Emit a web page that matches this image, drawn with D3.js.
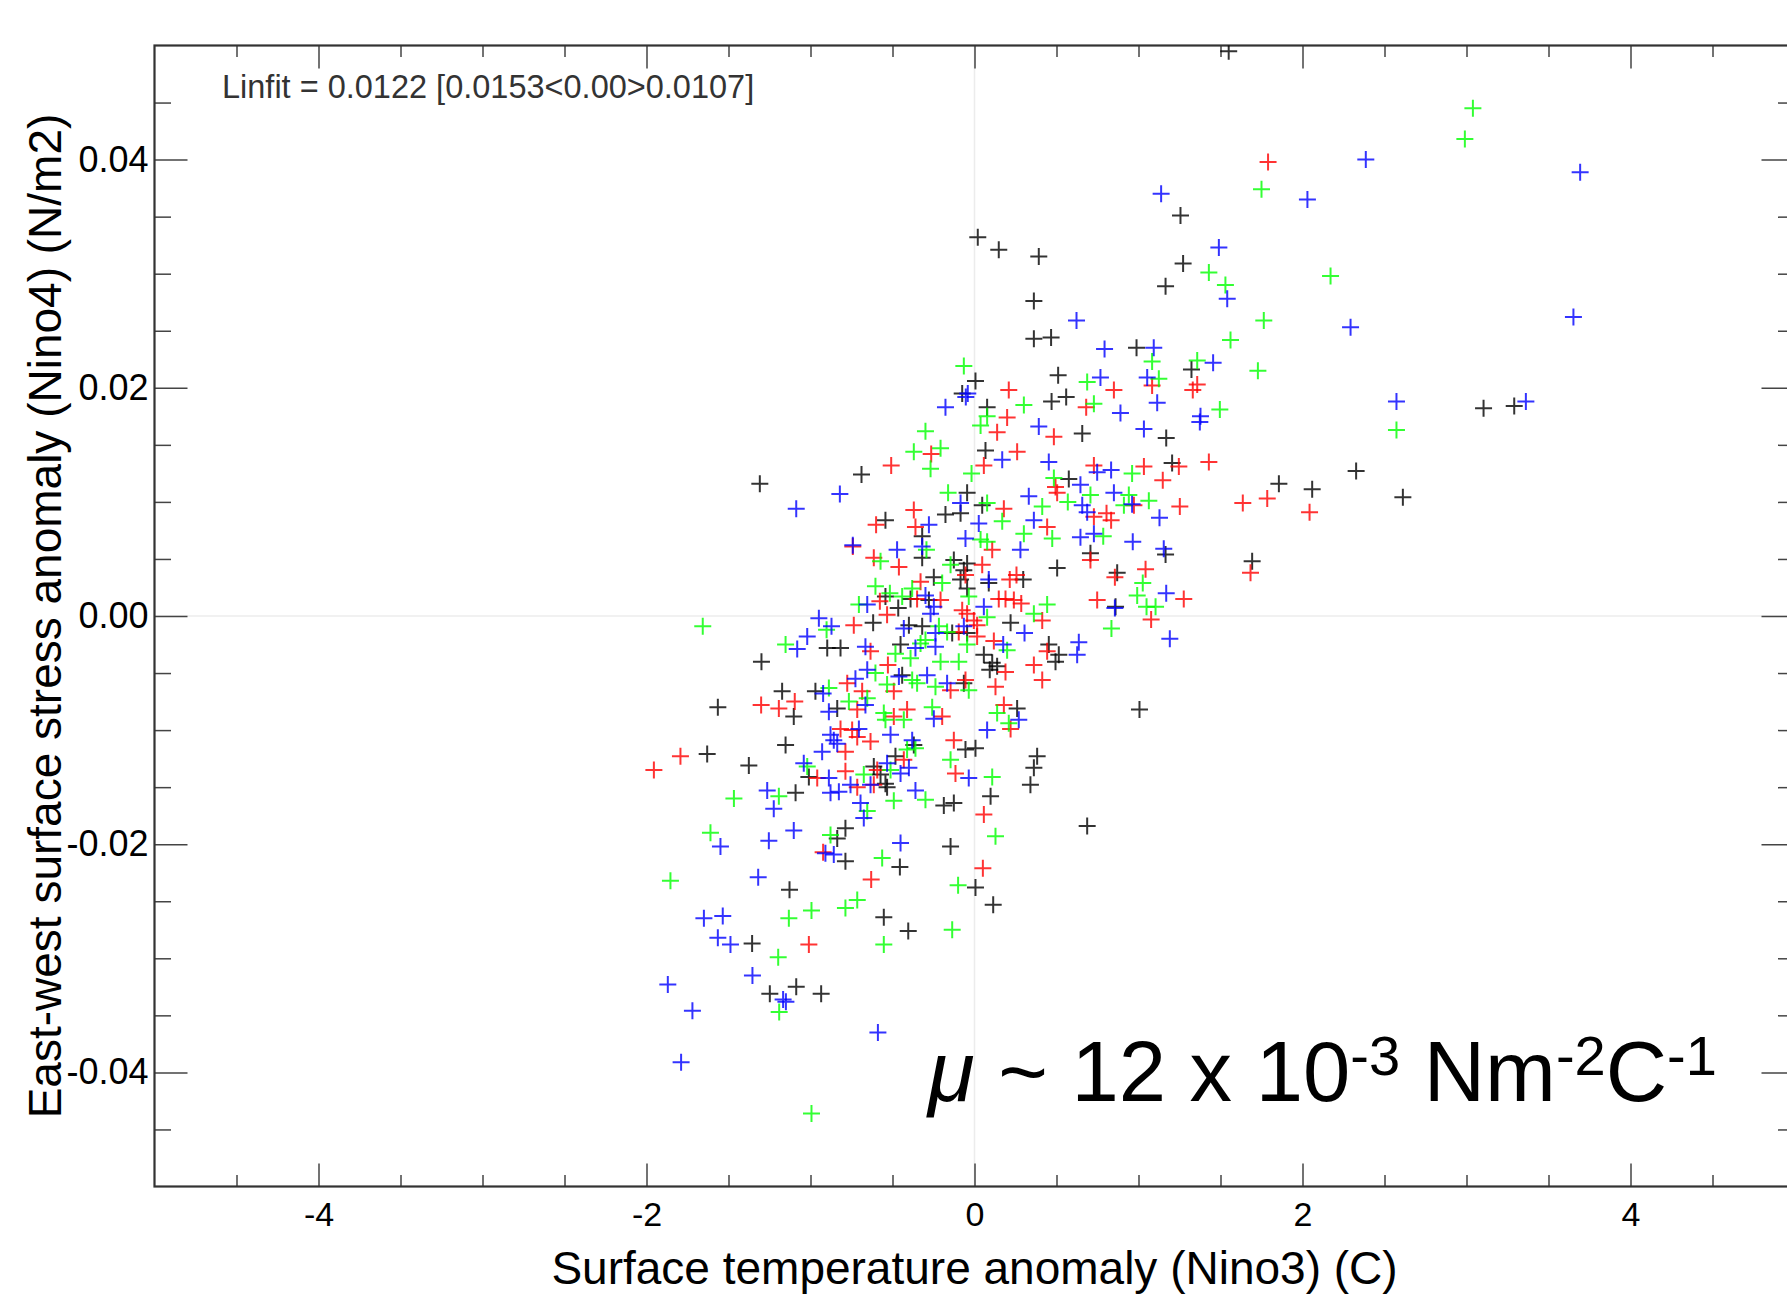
<!DOCTYPE html>
<html>
<head>
<meta charset="utf-8">
<script src="https://cdn.jsdelivr.net/npm/d3@7"></script>
<style>
    body { margin: 0; background: #fff; }
    svg { display: block; font-family: "Liberation Sans", Arial, Helvetica, sans-serif; }
    .tick text { fill: #000; }
</style>
</head>
<body>
<div id="chart"></div>
<script>

// Nino3 SST anomaly (C) vs Nino4 east-west stress anomaly (N/m2), one array per colour
const blackPts = [
    [1.256,0.0351],[0.02,0.0332],[0.148,0.0321],[0.392,0.0315],[1.272,0.0309],[1.165,0.0289],[0.362,0.0276],[0.362,0.0243],
    [0.467,0.0244],[0.988,0.0235],[1.323,0.0216],[0.006,0.0206],[0.510,0.0211],[-0.075,0.0195],[0.077,0.0183],[0.470,0.0188],
    [0.559,0.0192],[0.657,0.0160],[1.169,0.0156],[3.291,0.0184],[3.104,0.0182],[1.55,0.0495],
    [0.067,0.0145],[-0.689,0.0124],[0.575,0.0120],[-1.309,0.0116],[-0.045,0.0108],[0.047,0.0097],[-0.177,0.0089],[-0.085,0.0090],
    [-0.543,0.0084],[-0.319,0.0070],[-0.319,0.0051],[-0.126,0.0049],[-0.045,0.0046],[-0.065,0.0040],[0.504,0.0042],[0.707,0.0055],
    [-0.248,0.0034],[-0.085,0.0032],[-0.045,0.0024],[0.087,0.0029],[0.297,0.0032],[-0.543,0.0017],[-0.390,0.0015],[-0.278,0.0014],
    [-0.465,0.0007],[0.220,-0.0006],[-0.618,-0.0006],[-0.400,-0.0008],[-0.319,-0.0009],[-0.136,-0.0015],[-0.045,-0.0015],[0.453,-0.0025],
    [-0.898,-0.0028],[-0.817,-0.0028],[-0.451,-0.0025],[-1.299,-0.0040],[0.057,-0.0034],[0.108,-0.0041],[0.138,-0.0044],[0.093,-0.0047],
    [0.514,-0.0034],[0.494,-0.0040],[-0.441,-0.0052],[-1.173,-0.0066],[-0.970,-0.0066],[-0.065,-0.0059],
    [-1.565,-0.0080],[-1.102,-0.0088],[-0.837,-0.0081],[0.260,-0.0081],[-1.152,-0.0113],[-0.370,-0.0113],[-0.055,-0.0117],[0.006,-0.0116],
    [-0.482,-0.0123],[-0.614,-0.0132],[0.382,-0.0123],[0.362,-0.0133],[-1.010,-0.0141],[-0.573,-0.0139],[-0.543,-0.0147],[-0.533,-0.0150],
    [-1.376,-0.0131],[-1.630,-0.0121],[0.341,-0.0148],[0.098,-0.0158],[-0.187,-0.0166],[-0.126,-0.0164],[-1.091,-0.0155],[-0.787,-0.0186],
    [-0.837,-0.0195],[0.687,-0.0184],[-0.146,-0.0202],[-0.787,-0.0215],[-0.455,-0.0220],[0.006,-0.0238],[0.114,-0.0253],[-1.128,-0.0240],
    [-0.553,-0.0264],[-0.404,-0.0276],[-1.356,-0.0287],[-1.087,-0.0325],[-1.248,-0.0331],[-0.935,-0.0331],
    [1.205,0.0134],[1.856,0.0116],[2.059,0.0111],[2.327,0.0127],[2.612,0.0104],[1.165,0.0054],[1.693,0.0048],[0.870,0.0038],
    [0.860,0.0008],[1.006,-0.0082]
];

const redPts = [
    [1.79,0.0398],[1.083,0.0202],[1.358,0.0203],[1.331,0.0198],[0.850,0.0198],[0.209,0.0198],[0.681,0.0183],[0.199,0.0174],
    [0.138,0.0161],[0.484,0.0157],
    [-0.264,0.0142],[0.260,0.0144],[0.057,0.0132],[-0.508,0.0132],[0.728,0.0132],[0.494,0.0113],[0.504,0.0108],[0.179,0.0094],
    [-0.370,0.0093],[0.728,0.0087],[0.443,0.0078],[-0.600,0.0080],[-0.360,0.0078],[0.108,0.0058],[-0.742,0.0061],[-0.614,0.0051],
    [-0.461,0.0043],[0.047,0.0045],[0.707,0.0049],[-0.329,0.0030],[-0.055,0.0036],[0.215,0.0032],[0.256,0.0036],[-0.350,0.0015],
    [-0.207,0.0014],[-0.577,0.0013],[-0.533,0.0001],[-0.075,0.0005],[-0.045,0.0002],[-0.004,-0.0004],[0.016,-0.0008],[0.148,0.0015],
    [0.189,0.0015],[0.240,0.0014],[0.285,0.0011],[0.413,-0.0004],[0.748,0.0014],[-0.736,-0.0008],[-0.096,-0.0014],[0.016,-0.0018],
    [0.118,-0.0022],[0.443,-0.0031],[-0.634,-0.0031],[-0.528,-0.0043],[0.189,-0.0049],[0.362,-0.0043],[0.413,-0.0056],[-0.776,-0.0059],
    [-0.685,-0.0066],[-0.492,-0.0066],[-0.146,-0.0065],[-0.055,-0.0056],[0.128,-0.0062],
    [-1.301,-0.0078],[-1.193,-0.0081],[-1.096,-0.0075],[-0.715,-0.0082],[-0.492,-0.0088],[-0.411,-0.0082],[-0.197,-0.0088],[0.179,-0.0078],
    [0.220,-0.0099],[-0.817,-0.0099],[-0.746,-0.0100],[-0.715,-0.0106],[-0.787,-0.0119],[-0.634,-0.0110],[-0.126,-0.0109],[-0.431,-0.0126],
    [-0.593,-0.0135],[-0.116,-0.0138],[-0.959,-0.0142],[-0.787,-0.0136],[-0.715,-0.0150],[-0.614,-0.0148],[-1.793,-0.0123],[-1.955,-0.0135],
    [0.057,-0.0174],[-0.923,-0.0207],[0.051,-0.0221],[-0.630,-0.0231],[-1.010,-0.0288],
    [1.033,0.0131],[1.246,0.0131],[1.429,0.0135],[1.148,0.0119],[1.785,0.0103],[1.636,0.0099],[2.043,0.0091],[0.972,0.0097],
    [1.252,0.0096],[0.805,0.0090],[0.833,0.0084],[1.683,0.0038],[0.856,0.0034],[1.043,0.0041],[1.276,0.0015],[1.077,-0.0003]
];

const greenPts = [
    [1.75,0.0374],[1.429,0.0301],[1.53,0.0290],[2.171,0.0298],[1.764,0.0259],[1.561,0.0242],[1.083,0.0223],[1.358,0.0224],
    [1.728,0.0215],[-0.065,0.0219],[0.687,0.0205],[1.124,0.0208],[0.301,0.0185],[0.728,0.0186],[1.496,0.0181],[0.077,0.0175],
    [0.037,0.0167],[-0.299,0.0162],[2.573,0.0163],[3.039,0.0445],[2.99,0.0418],
    [-0.370,0.0144],[-0.207,0.0147],[-0.268,0.0129],[-0.018,0.0125],[0.484,0.0121],[-0.161,0.0108],[0.707,0.0106],[0.569,0.0100],
    [0.413,0.0096],[0.077,0.0099],[0.169,0.0083],[0.037,0.0067],[0.077,0.0065],[0.301,0.0072],[0.474,0.0068],[-0.293,0.0058],
    [-0.573,0.0048],[-0.146,0.0045],[-0.197,0.0029],[-0.604,0.0026],[-0.516,0.0020],[-0.441,0.0017],[-0.380,0.0024],[-0.705,0.0010],
    [-0.035,0.0017],[0.077,-0.0001],[0.443,0.0010],[0.362,0.0002],[-0.902,-0.0012],[-1.657,-0.0009],[-0.217,-0.0009],[-0.167,-0.0014],
    [-0.045,-0.0025],[0.199,-0.0030],[-1.152,-0.0025],[-0.482,-0.0033],[-0.329,-0.0024],[-0.299,-0.0021],[-0.390,-0.0037],[-0.207,-0.0040],
    [-0.096,-0.0040],[-0.604,-0.0050],[-0.380,-0.0056],[-0.350,-0.0059],[-0.533,-0.0060],[-0.888,-0.0063],[-0.238,-0.0062],[-0.035,-0.0065],
    [-0.766,-0.0075],[-0.654,-0.0072],[-0.553,-0.0085],[-0.543,-0.0091],[-0.431,-0.0091],[-0.258,-0.0080],[0.138,-0.0085],[0.209,-0.0094],
    [-0.360,-0.0116],[-0.411,-0.0117],[-0.146,-0.0126],[0.108,-0.0141],[-0.512,-0.0135],[-1.020,-0.0132],[-0.675,-0.0139],[-0.299,-0.0161],
    [-0.492,-0.0162],[-1.193,-0.0158],[-1.467,-0.0160],[-0.654,-0.0171],[-0.878,-0.0192],[-1.610,-0.0190],[0.128,-0.0193],[-0.563,-0.0212],
    [-0.100,-0.0236],[-1.854,-0.0232],[-0.994,-0.0258],[-0.787,-0.0256],[-0.715,-0.0249],[-1.132,-0.0265],[-0.136,-0.0275],[-0.553,-0.0288],
    [-1.197,-0.0299],[-1.191,-0.0347],[-0.994,-0.0436],
    [0.961,0.0125],[0.941,0.0106],[0.911,0.0097],[1.063,0.0101],[0.785,0.0070],[1.026,0.0029],[0.992,0.0018],[1.049,0.0008],
    [1.104,0.0008],[0.835,-0.0011]
];

const bluePts = [
    [2.386,0.0400],[2.03,0.0365],[1.138,0.0370],[1.49,0.0323],[1.541,0.0278],[0.622,0.0259],[2.293,0.0253],[0.793,0.0234],
    [1.093,0.0235],[1.455,0.0222],[0.768,0.0209],[1.053,0.0209],[-0.041,0.0195],[-0.053,0.0192],[-0.177,0.0183],[0.890,0.0178],
    [1.114,0.0187],[1.378,0.0175],[1.374,0.0170],[2.573,0.0188],[0.392,0.0166],[1.033,0.0164],
    [3.693,0.0389],[3.652,0.0262],[3.362,0.0188],
    [0.169,0.0137],[0.453,0.0135],[0.748,0.0126],[0.646,0.0115],[-0.821,0.0107],[0.331,0.0105],[0.657,0.0097],[0.687,0.0091],
    [-0.085,0.0099],[-1.087,0.0094],[0.026,0.0081],[0.362,0.0084],[-0.278,0.0080],[-0.055,0.0068],[0.280,0.0058],[0.646,0.0069],
    [0.728,0.0072],[-0.742,0.0062],[-0.472,0.0058],[-0.319,0.0061],[0.087,0.0032],[-0.299,0.0018],[-0.248,0.0008],[-0.654,0.0010],
    [-0.268,0.0002],[0.057,0.0008],[-0.949,-0.0002],[-0.872,-0.0009],[-0.431,-0.0011],[-0.238,-0.0015],[-0.065,-0.0009],[0.305,-0.0015],
    [0.175,-0.0025],[0.636,-0.0023],[-1.020,-0.0018],[-1.081,-0.0029],[-0.665,-0.0027],[-0.360,-0.0028],[-0.238,-0.0027],[0.626,-0.0034],
    [-0.654,-0.0047],[-0.726,-0.0055],[-0.461,-0.0053],[-0.289,-0.0052],[-0.923,-0.0068],[-0.167,-0.0059],
    [-0.888,-0.0084],[-0.665,-0.0078],[-0.248,-0.0090],[0.077,-0.0100],[0.270,-0.0091],[-0.705,-0.0099],[-0.858,-0.0109],[-0.878,-0.0104],
    [-0.837,-0.0112],[-0.929,-0.0119],[-0.512,-0.0104],[-0.380,-0.0109],[-0.533,-0.0129],[-0.035,-0.0142],[-0.400,-0.0133],[-0.451,-0.0138],
    [-0.888,-0.0142],[-1.041,-0.0129],[-0.756,-0.0148],[-0.634,-0.0148],[-0.360,-0.0153],[-1.264,-0.0153],[-1.224,-0.0169],[-0.878,-0.0155],
    [-0.827,-0.0154],[-0.695,-0.0164],[-0.675,-0.0177],[-1.102,-0.0188],[-1.549,-0.0202],[-1.254,-0.0197],[-0.451,-0.0199],[-0.909,-0.0208],
    [-0.858,-0.0209],[-1.319,-0.0229],[-1.650,-0.0265],[-1.535,-0.0263],[-1.565,-0.0282],[-1.488,-0.0288],[-1.354,-0.0315],[-1.870,-0.0323],
    [-1.167,-0.0336],[-1.150,-0.0338],[-1.720,-0.0346],[-0.589,-0.0365],[-1.789,-0.0391],
    [0.833,0.0128],[0.850,0.0108],[0.961,0.0098],[1.128,0.0086],[0.965,0.0065],[1.154,0.0059],[1.169,0.0020],[0.856,0.0007],
    [1.191,-0.0020]
];

const seriesNames = ["black", "red", "green", "blue"];
const seriesColors = ["#000000", "#ff0000", "#00ff00", "#0000ff"];

const xTicks = [-4, -2, 0, 2, 4];
const yTicks = [-0.04, -0.02, 0.00, 0.02, 0.04];

const xTitle = "Surface temperature anomaly (Nino3) (C)";
const yTitle = "East-west surface stress anomaly (Nino4) (N/m2)";
const fitLabel = "Linfit = 0.0122 [0.0153<0.00>0.0107]";


class ScatterChart {

    constructor(parentElement, series) {
        this.parentElement = parentElement;
        this.series = series;

        this.initVis();
    }

    initVis() {
        let vis = this;

        vis.margin = {top: 45.5, right: 0, bottom: 111.5, left: 154.5};
        vis.width = 1640;
        vis.height = 1141;

        vis.root = d3.select("#" + vis.parentElement).append("svg")
            .attr("width", 1787)
            .attr("height", 1298);

        vis.svg = vis.root.append("g")
            .attr("transform", "translate(" + vis.margin.left + "," + vis.margin.top + ")");

        vis.x = d3.scaleLinear().domain([-5, 5]).range([0, vis.width]);
        vis.y = d3.scaleLinear().domain([-0.05, 0.05]).range([vis.height, 0]);

        vis.svg.append("clipPath").attr("id", "plot-clip")
            .append("rect")
            .attr("width", vis.width)
            .attr("height", vis.height);

        // faint zero lines
        vis.svg.append("line")
            .attr("x1", vis.x(0)).attr("x2", vis.x(0))
            .attr("y1", 0).attr("y2", vis.height)
            .attr("stroke", "#ececec").attr("stroke-width", 1.5);
        vis.svg.append("line")
            .attr("x1", 0).attr("x2", vis.width)
            .attr("y1", vis.y(0)).attr("y2", vis.y(0))
            .attr("stroke", "#ececec").attr("stroke-width", 1.5);

        vis.drawAxes();
        vis.updateVis();
    }

    drawAxes() {
        let vis = this;

        let xMinor = d3.range(-4.5, 5, 0.5).filter(d => xTicks.indexOf(d) < 0);
        let yMinor = d3.range(-0.045, 0.05, 0.005).filter(d => !yTicks.some(t => Math.abs(t - d) < 1e-6));

        let styleAxis = function (g) {
            g.select(".domain").remove();
            g.selectAll(".tick line").attr("stroke", "#444").attr("stroke-width", 1.5);
        };

        // bottom and top, ticks pointing inward
        vis.svg.append("g")
            .attr("class", "x-axis axis")
            .attr("transform", "translate(0," + vis.height + ")")
            .call(d3.axisBottom(vis.x).tickValues(xTicks).tickSize(-23).tickPadding(15)
                .tickFormat(d => String(d)))
            .call(styleAxis)
            .selectAll("text").style("font-size", "34px");
        vis.svg.append("g")
            .attr("transform", "translate(0," + vis.height + ")")
            .call(d3.axisBottom(vis.x).tickValues(xMinor).tickSize(-11.5).tickFormat(""))
            .call(styleAxis);
        vis.svg.append("g")
            .call(d3.axisTop(vis.x).tickValues(xTicks).tickSize(-23).tickFormat(""))
            .call(styleAxis);
        vis.svg.append("g")
            .call(d3.axisTop(vis.x).tickValues(xMinor).tickSize(-11.5).tickFormat(""))
            .call(styleAxis);

        // left and right
        vis.svg.append("g")
            .attr("class", "y-axis axis")
            .call(d3.axisLeft(vis.y).tickValues(yTicks).tickSize(-33).tickPadding(6)
                .tickFormat(d => d.toFixed(2)))
            .call(styleAxis)
            .selectAll("text").style("font-size", "36px");
        vis.svg.append("g")
            .call(d3.axisLeft(vis.y).tickValues(yMinor).tickSize(-16.5).tickFormat(""))
            .call(styleAxis);
        vis.svg.append("g")
            .attr("transform", "translate(" + vis.width + ",0)")
            .call(d3.axisRight(vis.y).tickValues(yTicks).tickSize(-33).tickFormat(""))
            .call(styleAxis);
        vis.svg.append("g")
            .attr("transform", "translate(" + vis.width + ",0)")
            .call(d3.axisRight(vis.y).tickValues(yMinor).tickSize(-16.5).tickFormat(""))
            .call(styleAxis);

        // plot frame
        vis.svg.append("rect")
            .attr("width", vis.width)
            .attr("height", vis.height)
            .attr("fill", "none")
            .attr("stroke", "#333")
            .attr("stroke-width", 2.2);

        // titles
        vis.root.append("text")
            .attr("x", vis.margin.left + vis.x(0))
            .attr("y", 1284)
            .attr("text-anchor", "middle")
            .style("font-size", "46px")
            .text(xTitle);

        vis.root.append("text")
            .attr("transform", "translate(61," + (vis.margin.top + vis.y(0)) + ") rotate(-90)")
            .attr("text-anchor", "middle")
            .style("font-size", "46px")
            .text(yTitle);

        vis.root.append("text")
            .attr("x", 222)
            .attr("y", 98)
            .attr("fill", "#333")
            .style("font-size", "32.5px")
            .text(fitLabel);

        // slope annotation
        let note = vis.root.append("text")
            .attr("x", 928)
            .attr("y", 1101)
            .style("font-size", "85px");
        note.append("tspan").style("font-style", "italic").text("\u03bc");
        note.append("tspan").text(" ~ 12 x 10");
        note.append("tspan").attr("dy", -26).style("font-size", "56px").text("-3");
        note.append("tspan").attr("dy", 26).text(" Nm");
        note.append("tspan").attr("dy", -26).style("font-size", "56px").text("-2");
        note.append("tspan").attr("dy", 26).text("C");
        note.append("tspan").attr("dy", -26).style("font-size", "56px").text("-1");
    }

    updateVis() {
        let vis = this;

        let plus = "M-8.5,0H8.5M0,-8.5V8.5";

        vis.groups = vis.svg.append("g")
            .attr("clip-path", "url(#plot-clip)")
            .selectAll("g.series")
            .data(vis.series)
            .enter()
            .append("g")
            .attr("class", "series")
            .attr("stroke", d => d.color)
            .attr("stroke-width", 2)
            .attr("stroke-opacity", 0.8)
            .attr("fill", "none");

        vis.groups.selectAll("path.pt")
            .data(d => d.values)
            .enter()
            .append("path")
            .attr("class", "pt")
            .attr("transform", d => "translate(" + vis.x(d[0]) + "," + vis.y(d[1]) + ")")
            .attr("d", plus);
    }

}

let allSeries = [blackPts, redPts, greenPts, bluePts].map((pts, i) => ({
    name: seriesNames[i],
    color: seriesColors[i],
    values: pts
}));

new ScatterChart("chart", allSeries);

</script>
</body>
</html>
